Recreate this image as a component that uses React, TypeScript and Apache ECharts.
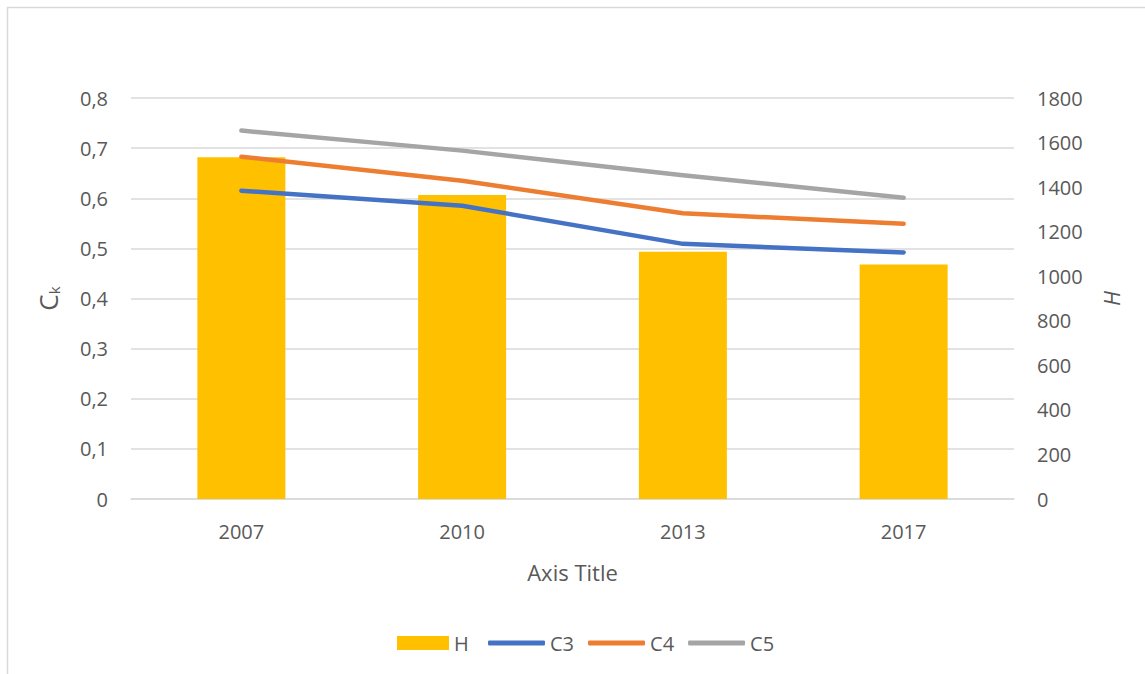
import React, { useEffect, useRef } from "react";
import * as echarts from "echarts";

const categories = ["2007", "2010", "2013", "2017"];
const hValues = [1534, 1365, 1110, 1053];
const c3Values = [0.615, 0.585, 0.509, 0.492];
const c4Values = [0.683, 0.635, 0.57, 0.549];
const c5Values = [0.735, 0.695, 0.646, 0.601];

const FONT = "'Open Sans', sans-serif";
const TEXT = "#595959";
const GRID = "#d9d9d9";

export default function App() {
  const ref = useRef<HTMLDivElement>(null);
  useEffect(() => {
    if (!ref.current) return;
    const chart = echarts.init(ref.current, undefined, { renderer: "svg" });
    const lineSeries = (name: string, data: number[], color: string) => ({
      name,
      type: "line",
      yAxisIndex: 0,
      data,
      symbol: "none",
      lineStyle: { color, width: 4.5, cap: "round", join: "round" },
      itemStyle: { color },
    });
    const legendText = { color: TEXT, fontSize: 20, fontFamily: FONT };
    chart.setOption({
      animation: false,
      backgroundColor: "#ffffff",
      textStyle: { fontFamily: FONT },
      grid: { left: 131, right: 131, top: 98, bottom: 175 },
      graphic: [
        { type: "line", shape: { x1: 7, y1: 7.5, x2: 1145, y2: 7.5 }, style: { stroke: GRID, lineWidth: 1.5 } },
        { type: "line", shape: { x1: 7.5, y1: 7, x2: 7.5, y2: 674 }, style: { stroke: GRID, lineWidth: 1.5 } },
      ],
      legend: [
        {
          left: 397,
          top: 633,
          padding: 0,
          itemWidth: 52,
          itemHeight: 14,
          textStyle: legendText,
          data: [{ name: "H", icon: "rect" }],
        },
        {
          left: 488,
          top: 633,
          padding: 0,
          itemWidth: 57,
          itemHeight: 5,
          itemGap: 14,
          textStyle: legendText,
          data: [
            { name: "C3", icon: "roundRect" },
            { name: "C4", icon: "roundRect" },
            { name: "C5", icon: "roundRect" },
          ],
        },
      ],
      xAxis: {
        type: "category",
        data: categories,
        axisLine: { lineStyle: { color: GRID, width: 1.5 } },
        axisTick: { show: false },
        axisLabel: { color: TEXT, fontSize: 20, margin: 22, fontFamily: FONT },
        name: "Axis Title",
        nameLocation: "middle",
        nameGap: 62,
        nameTextStyle: { color: TEXT, fontSize: 22, fontFamily: FONT },
      },
      yAxis: [
        {
          type: "value",
          min: 0,
          max: 0.8,
          interval: 0.1,
          axisLine: { show: false },
          axisTick: { show: false },
          splitLine: { lineStyle: { color: GRID, width: 1.5 } },
          axisLabel: {
            color: TEXT,
            fontSize: 20,
            margin: 23,
            fontFamily: FONT,
            formatter: (v: number) => String(Math.round(v * 10) / 10).replace(".", ","),
          },
          name: "{c|C}{k|k}",
          nameLocation: "middle",
          nameRotate: 90,
          nameGap: 70,
          nameTextStyle: {
            color: TEXT,
            fontFamily: FONT,
            rich: {
              c: { fontSize: 26, color: TEXT, fontFamily: FONT },
              k: { fontSize: 15, color: TEXT, fontFamily: FONT, padding: [12, 0, 0, 0] },
            },
          },
        },
        {
          type: "value",
          min: 0,
          max: 1800,
          interval: 200,
          position: "right",
          axisLine: { show: false },
          axisTick: { show: false },
          splitLine: { show: false },
          axisLabel: {
            color: TEXT,
            fontSize: 20,
            margin: 23,
            fontFamily: FONT,
            formatter: (v: number) => String(v),
          },
          name: "H",
          nameLocation: "middle",
          nameRotate: 90,
          nameGap: 86,
          nameTextStyle: { color: TEXT, fontSize: 22, fontStyle: "italic", fontFamily: FONT },
        },
      ],
      series: [
        {
          name: "H",
          type: "bar",
          yAxisIndex: 1,
          data: hValues,
          barWidth: 88,
          itemStyle: { color: "#FFC000" },
        },
        lineSeries("C3", c3Values, "#4472C4"),
        lineSeries("C4", c4Values, "#ED7D31"),
        lineSeries("C5", c5Values, "#A5A5A5"),
      ],
    });
    return () => chart.dispose();
  }, []);
  return (
    <div
      ref={ref}
      style={{ position: "absolute", left: 0, top: 0, width: 1145, height: 674 }}
    />
  );
}
